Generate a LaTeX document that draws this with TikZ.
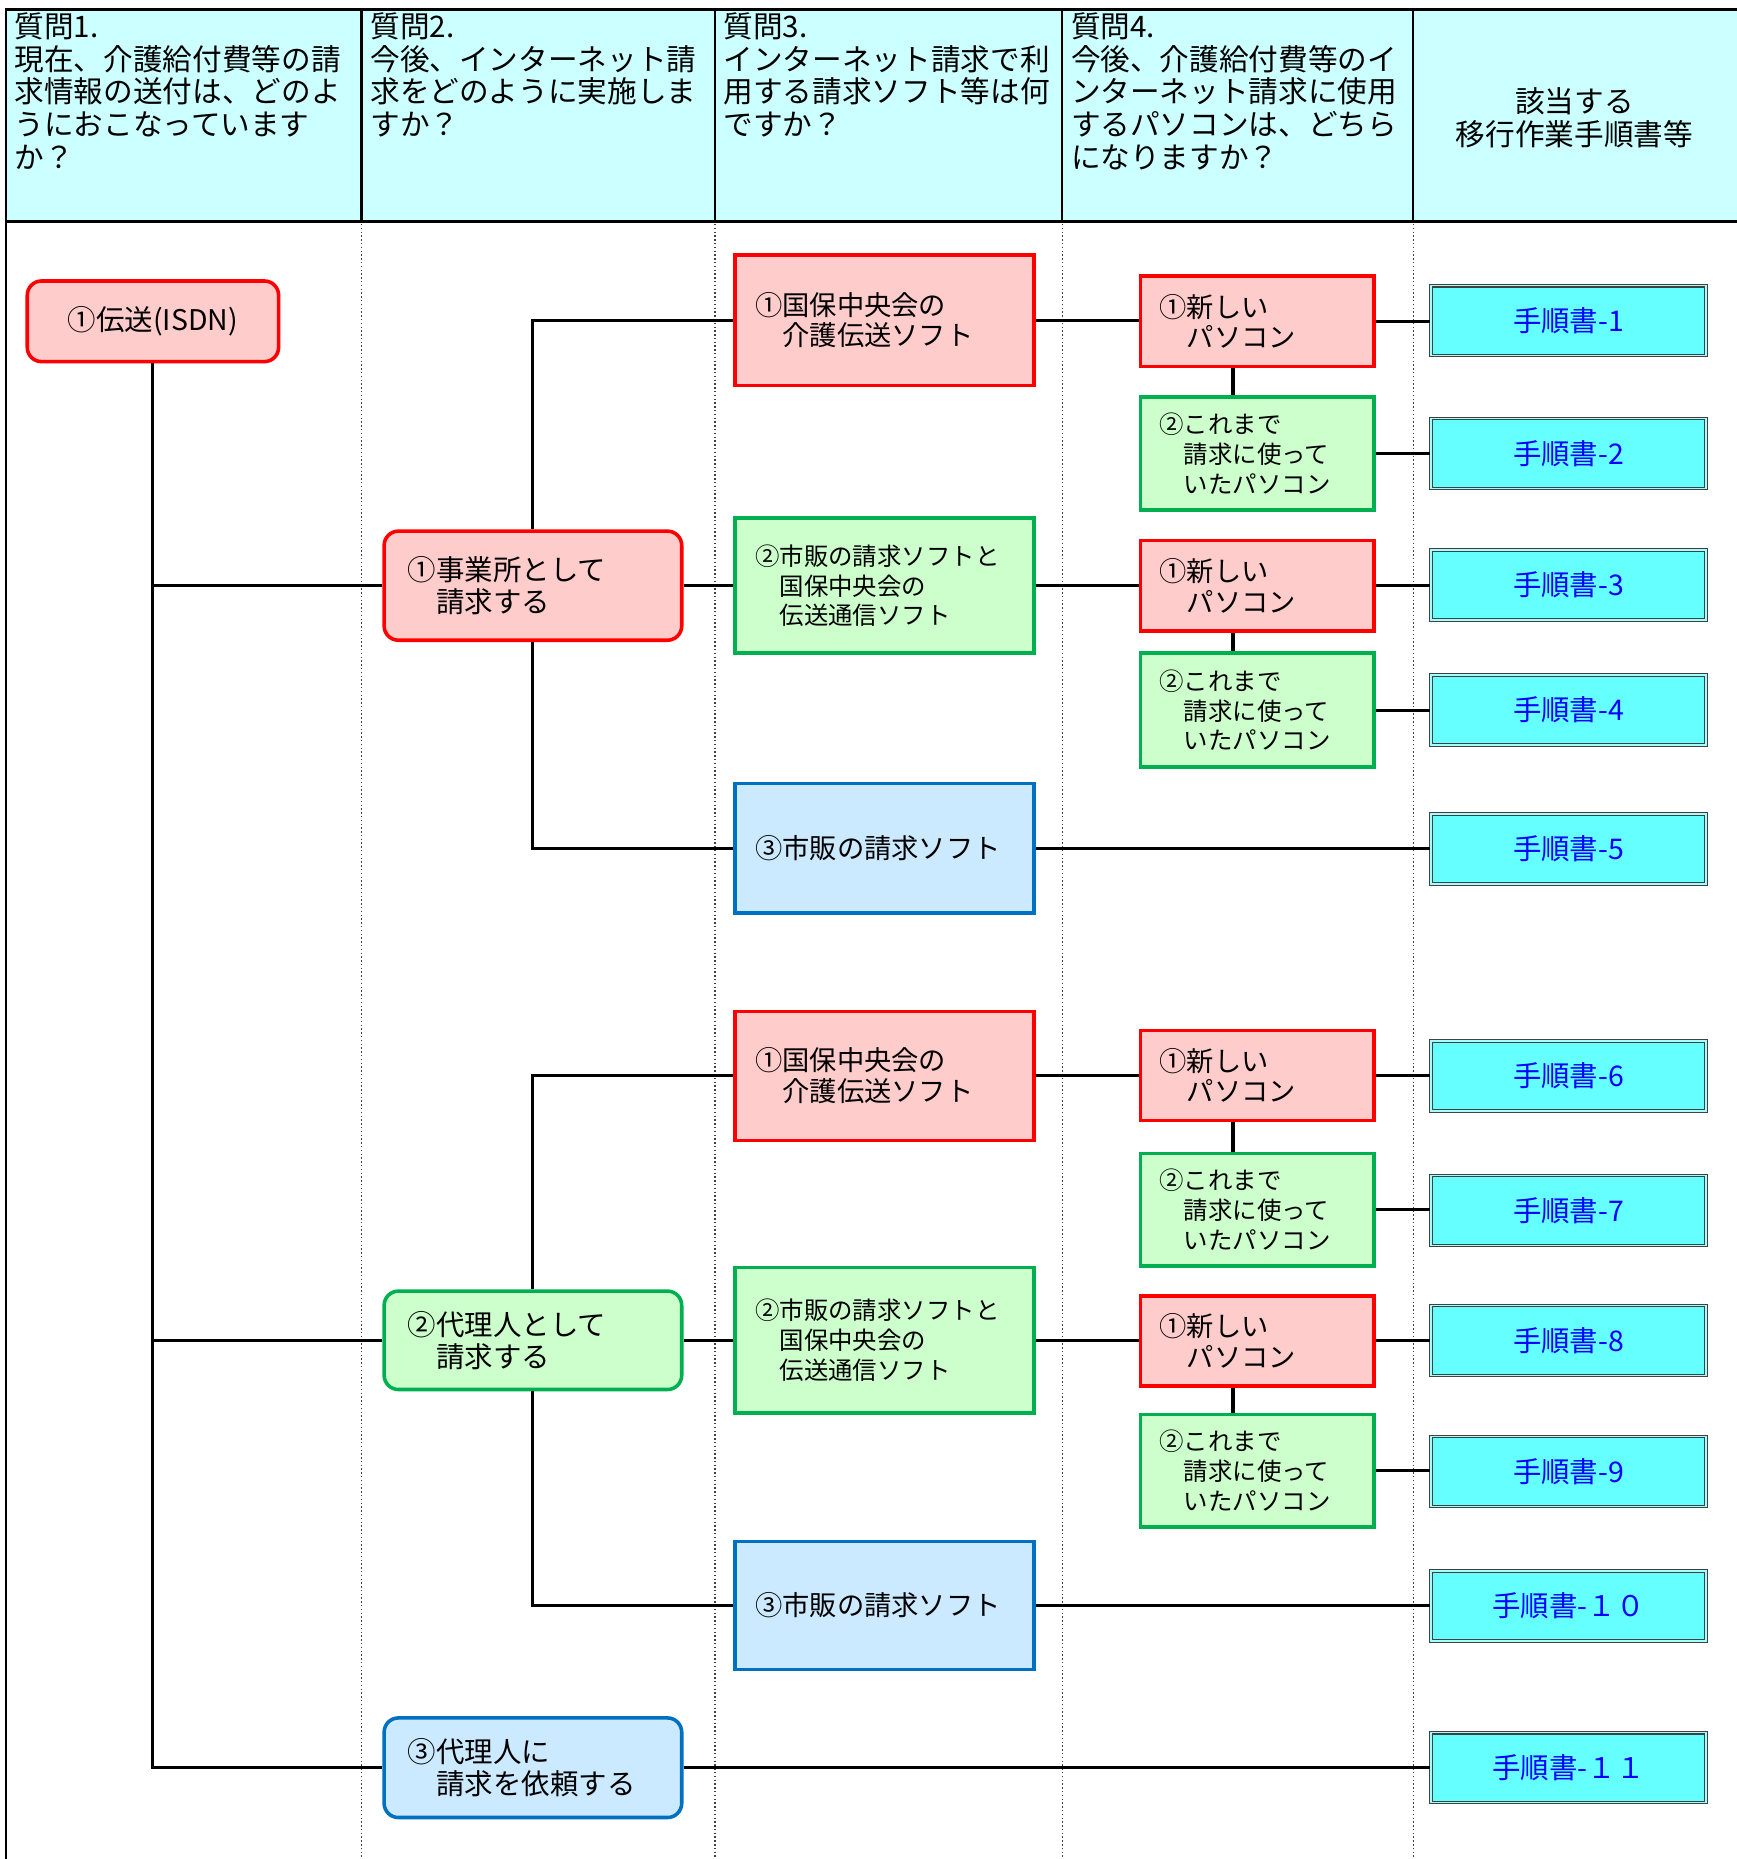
\documentclass[tikz,border=0pt]{standalone}
\usepackage{fontspec}
\setmainfont{Noto Sans CJK JP}
\usepackage{tikz}
\usepackage{xcolor}
\definecolor{headcyan}{RGB}{204,255,255}
\definecolor{boxpink}{RGB}{255,204,204}
\definecolor{boxred}{RGB}{255,0,0}
\definecolor{boxgreen}{RGB}{204,255,204}
\definecolor{edgegreen}{RGB}{0,176,80}
\definecolor{boxblue}{RGB}{204,234,255}
\definecolor{edgeblue}{RGB}{0,112,192}
\definecolor{sheetcyan}{RGB}{102,255,255}
\definecolor{sheetblue}{RGB}{0,0,255}

\begin{document}
\begin{tikzpicture}[x=0.5pt,y=0.5pt,yscale=-1,xscale=1,
  link/.style={line width=1.3pt},
  sepline/.style={densely dotted, line width=0.6pt, draw=black!75},
  headtext/.style={anchor=north west, align=left, inner sep=0pt, font=\fontsize{12.5}{13.75}\selectfont},
  redfill/.style={draw=boxred, fill=boxpink, line width=1.5pt},
  greenfill/.style={draw=edgegreen, fill=boxgreen, line width=1.5pt},
  bluefill/.style={draw=edgeblue, fill=boxblue, line width=1.5pt},
  sendbox/.style={rounded corners=6pt, minimum width=106pt, minimum height=34pt, inner sep=0pt, font=\fontsize{12}{13.5}\selectfont},
  waybox/.style={rounded corners=6pt, text width=105.5pt, inner xsep=10pt, inner ysep=0pt, align=left, minimum height=#1, font=\fontsize{12}{13.5}\selectfont},
  softbox/.style={text width=109pt, inner xsep=8.5pt, inner ysep=0pt, align=left, minimum height=#1},
  pcbox/.style={text width=82.5pt, inner xsep=8pt, inner ysep=0pt, align=left, minimum height=#1},
  twoline/.style={font=\fontsize{11.5}{13}\selectfont},
  threeline/.style={font=\fontsize{10.3}{12.6}\selectfont},
  sheet/.style={draw=black!75, double=sheetcyan!60!white, line width=0.45pt, double distance=0.6pt, fill=sheetcyan, minimum width=116pt, minimum height=29.5pt, inner sep=0pt, text=sheetblue, font=\fontsize{12}{14}\selectfont}]
\useasboundingbox (0,0) rectangle (1465,1568);

%Shape: Header band
\fill[headcyan] (5,8) rectangle (1465,187);
\draw[line width=1pt] (1465,8) -- (5,8) -- (5,1568);
\draw[line width=1.3pt] (5,187) -- (1465,187);
\foreach \cx in {305,603,896,1192} {
  \draw[line width=1pt] (\cx,8) -- (\cx,187);
  \draw[sepline] (\cx,189) -- (\cx,1568);
}

% Text Node
\node[headtext] (q1) at (12,10.5) {質問1.\\現在、介護給付費等の請\\求情報の送付は、どのよ\\うにおこなっています\\か？};
\node[headtext] (q2) at (312,10.5) {質問2.\\今後、インターネット請\\求をどのように実施しま\\すか？};
\node[headtext] (q3) at (610,10.5) {質問3.\\インターネット請求で利\\用する請求ソフト等は何\\ですか？};
\node[headtext] (q4) at (903,10.5) {質問4.\\今後、介護給付費等のイ\\ンターネット請求に使用\\するパソコンは、どちら\\になりますか？};
\node[headtext, anchor=north, align=center] (q5) at (1328,73.5) {該当する\\移行作業手順書等};

%Shape: Question 1
\node[redfill, sendbox] (A1) at (129,271) {①伝送(ISDN)};

%Shape: Question 2
\node[redfill, waybox=46pt] (B1) at (449.5,494) {①事業所として\\　請求する};
\node[greenfill, waybox=41.5pt] (B2) at (449.5,1130.5) {②代理人として\\　請求する};
\node[bluefill, waybox=42pt] (B3) at (449.5,1491) {③代理人に\\　請求を依頼する};

%Shape: Question 3
\node[redfill, softbox=55pt, twoline] (C1) at (746,270) {①国保中央会の\\　介護伝送ソフト};
\node[greenfill, softbox=57pt, threeline] (C2) at (746,494) {②市販の請求ソフトと\\　国保中央会の\\　伝送通信ソフト};
\node[bluefill, softbox=54.5pt, twoline] (C3) at (746,715.5) {③市販の請求ソフト};
\node[redfill, softbox=54.5pt, twoline] (C4) at (746,907.5) {①国保中央会の\\　介護伝送ソフト};
\node[greenfill, softbox=61.5pt, threeline] (C5) at (746,1130.5) {②市販の請求ソフトと\\　国保中央会の\\　伝送通信ソフト};
\node[bluefill, softbox=54pt, twoline] (C6) at (746,1354) {③市販の請求ソフト};

%Shape: Question 4
\node[redfill, pcbox=38pt, twoline] (D1) at (1060.5,271) {①新しい\\　パソコン};
\node[greenfill, pcbox=47.5pt, threeline] (D2) at (1060.5,382.5) {②これまで\\　請求に使って\\　いたパソコン};
\node[redfill, pcbox=38pt, twoline] (D3) at (1060.5,494) {①新しい\\　パソコン};
\node[greenfill, pcbox=48pt, threeline] (D4) at (1060.5,599) {②これまで\\　請求に使って\\　いたパソコン};
\node[redfill, pcbox=38pt, twoline] (D5) at (1060.5,907) {①新しい\\　パソコン};
\node[greenfill, pcbox=47.5pt, threeline] (D6) at (1060.5,1020.5) {②これまで\\　請求に使って\\　いたパソコン};
\node[redfill, pcbox=38pt, twoline] (D7) at (1060.5,1131) {①新しい\\　パソコン};
\node[greenfill, pcbox=47.5pt, threeline] (D8) at (1060.5,1240.5) {②これまで\\　請求に使って\\　いたパソコン};

%Shape: Procedure sheets
\node[sheet] (E1) at (1323,270.5) {手順書-1};
\node[sheet] (E2) at (1323,382.5) {手順書-2};
\node[sheet] (E3) at (1323,493.5) {手順書-3};
\node[sheet] (E4) at (1323,599) {手順書-4};
\node[sheet] (E5) at (1323,716) {手順書-5};
\node[sheet] (E6) at (1323,907.5) {手順書-6};
\node[sheet] (E7) at (1323,1021) {手順書-7};
\node[sheet] (E8) at (1323,1130.5) {手順書-8};
\node[sheet] (E9) at (1323,1241) {手順書-9};
\node[sheet] (E10) at (1323,1354.5) {手順書-１０};
\node[sheet] (E11) at (1323,1491) {手順書-１１};

%Straight Lines
\coordinate (pcx) at (1040,0);
\draw[link] (A1.south) |- (B3.west);
\draw[link] (A1.south |- B1.west) -- (B1.west);
\draw[link] (A1.south |- B2.west) -- (B2.west);
\draw[link] (B1.north) |- (C1.west);
\draw[link] (B1.east) -- (B1.east -| C2.west);
\draw[link] (B1.south) |- (C3.west);
\draw[link] (B2.north) |- (C4.west);
\draw[link] (B2.east) -- (B2.east -| C5.west);
\draw[link] (B2.south) |- (C6.west);
\draw[link] (B3.east) -- (B3.east -| E11.west);
\foreach \s/\t in {C1/D1, C2/D3, C4/D5, C5/D7, C3/E5, C6/E10}
  \draw[link] (\s.east) -- (\s.east -| \t.west);
\foreach \s/\t in {D1/D2, D3/D4, D5/D6, D7/D8}
  \draw[link] (\s.south -| pcx) -- (\t.north -| pcx);
\foreach \s/\t in {D1/E1, D2/E2, D3/E3, D4/E4, D5/E6, D6/E7, D7/E8, D8/E9}
  \draw[link] (\s.east) -- (\s.east -| \t.west);

\end{tikzpicture}
\end{document}
